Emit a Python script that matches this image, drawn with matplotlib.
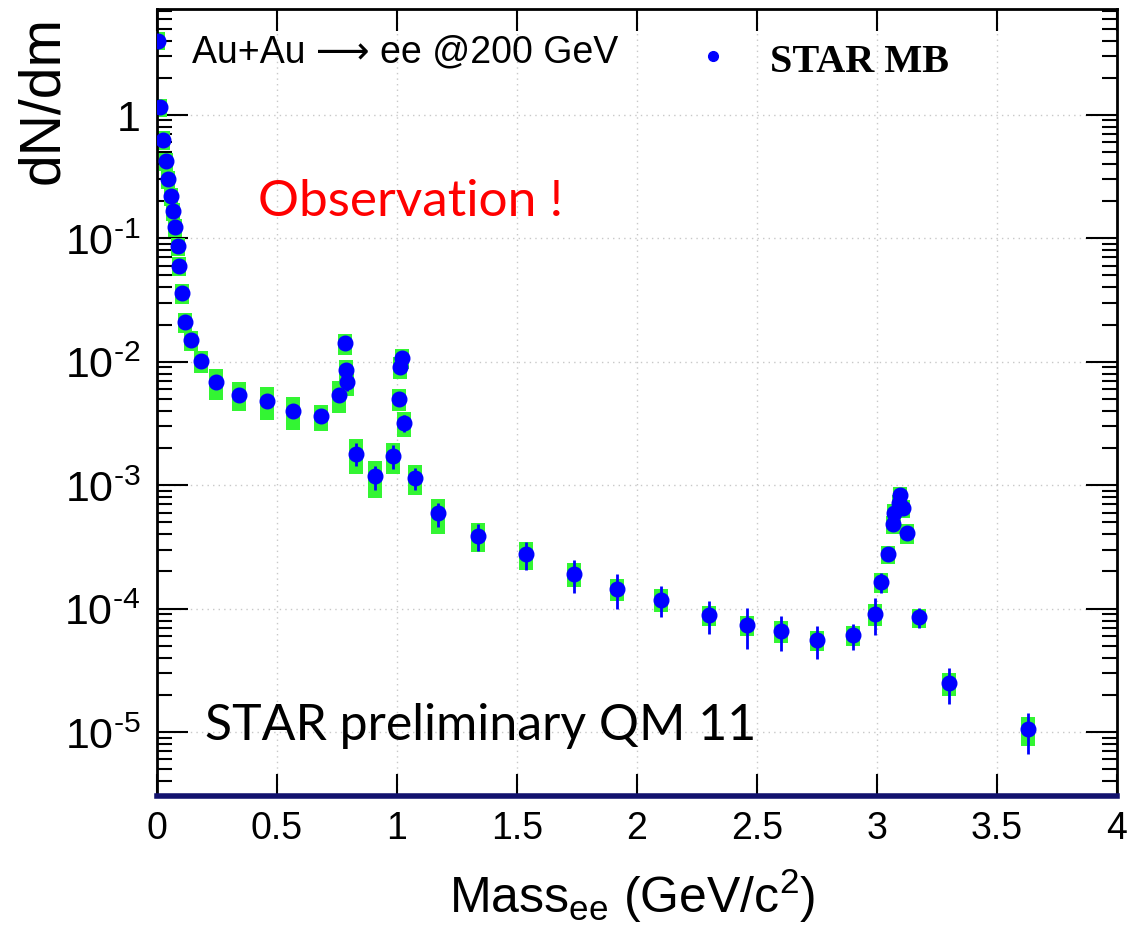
import matplotlib
matplotlib.use("Agg")
import matplotlib.pyplot as plt
import numpy as np

# dielectron mass spectrum
mass = [0.005, 0.013, 0.026, 0.037, 0.045, 0.057, 0.068, 0.074, 0.087, 0.093,
        0.105, 0.115, 0.14, 0.183, 0.246, 0.342, 0.458, 0.567, 0.683, 0.758,
        0.783, 0.788, 0.792, 0.829, 0.908, 0.983, 1.008, 1.013, 1.02, 1.03,
        1.075, 1.17, 1.337, 1.538, 1.738, 1.917, 2.10, 2.30, 2.46, 2.60,
        2.75, 2.90, 2.99, 3.017, 3.047, 3.065, 3.072, 3.09, 3.096, 3.11,
        3.125, 3.175, 3.30, 3.63]
dndm = [4.0, 1.15, 0.63, 0.42, 0.30, 0.22, 0.165, 0.123, 0.086, 0.060,
        0.036, 0.021, 0.015, 0.0102, 0.0068, 0.0054, 0.0048, 0.0040, 0.0036, 0.0054,
        0.0141, 0.0086, 0.0068, 0.0018, 0.00118, 0.00172, 0.0050, 0.0091, 0.0107, 0.0032,
        0.00114, 0.00059, 0.00039, 0.000275, 0.00019, 0.000145, 0.000118, 8.9e-5, 7.4e-5, 6.6e-5,
        5.6e-5, 6.1e-5, 9.1e-5, 1.63e-4, 2.75e-4, 4.8e-4, 6.0e-4, 7.1e-4, 8.3e-4, 6.5e-4,
        4.1e-4, 8.5e-5, 2.5e-5, 1.05e-5]
# relative systematic (green boxes) and statistical (blue bars) errors
sys_rel = [0.17, 0.17, 0.17, 0.17, 0.17, 0.17, 0.17, 0.17, 0.17, 0.17,
           0.18, 0.19, 0.185, 0.2, 0.28, 0.265, 0.30, 0.30, 0.24, 0.29,
           0.19, 0.19, 0.22, 0.31, 0.33, 0.28, 0.2, 0.2, 0.19, 0.23,
           0.27, 0.32, 0.27, 0.26, 0.22, 0.2, 0.21, 0.185, 0.185, 0.2,
           0.185, 0.185, 0.2, 0.185, 0.167, 0.167, 0.167, 0.167, 0.167, 0.167,
           0.18, 0.175, 0.21, 0.265]
stat_rel = [0.03, 0.03, 0.03, 0.03, 0.03, 0.03, 0.03, 0.03, 0.04, 0.04,
            0.05, 0.05, 0.05, 0.06, 0.08, 0.08, 0.1, 0.1, 0.12, 0.1,
            0.06, 0.06, 0.15, 0.21, 0.22, 0.22, 0.08, 0.06, 0.06, 0.16,
            0.2, 0.22, 0.25, 0.26, 0.30, 0.31, 0.28, 0.30, 0.36, 0.31,
            0.30, 0.24, 0.33, 0.18, 0.12, 0.1, 0.1, 0.1, 0.08, 0.1,
            0.1, 0.18, 0.33, 0.37]

xticks = [0, 0.5, 1, 1.5, 2, 2.5, 3, 3.5, 4]
xticklabels = ["0", "0.5", "1", "1.5", "2", "2.5", "3", "3.5", "4"]
yticks = [1e-5, 1e-4, 1e-3, 1e-2, 1e-1, 1]
yticklabels = ["$10^{\u2010 5}$", "$10^{\u2010 4}$", "$10^{\u2010 3}$",
               "$10^{\u2010 2}$", "$10^{\u2010 1}$", "1"]

plt.rcParams["font.family"] = ["Liberation Sans", "DejaVu Sans"]
plt.rcParams["mathtext.fontset"] = "custom"
plt.rcParams["mathtext.rm"] = "Liberation Sans"
plt.rcParams["mathtext.it"] = "Liberation Sans"

fig = plt.figure(figsize=(11.27, 9.29), dpi=100)
ax = fig.add_axes([157/1127, 1-797/929, 960/1127, 787/929])

m = np.array(mass)
y = np.array(dndm)
s = np.array(sys_rel)
lo = y*(1-s)
hi = y*(1+s)
ax.bar(m, hi-lo, bottom=lo, width=0.058, color="#33f533", zorder=2)
ax.errorbar(m, y, yerr=y*np.array(stat_rel), fmt="o", color="#0000ff",
            ms=10.5, elinewidth=2, capsize=0, zorder=3)

ax.set_yscale("log")
ax.set_xlim(0, 4)
ax.set_ylim(3.03e-6, 7.2)
ax.set_xticks(xticks)
ax.set_xticklabels(xticklabels, fontsize=27)
ax.set_yticks(yticks)
ax.set_yticklabels(yticklabels, fontsize=31)
ax.yaxis.set_minor_locator(matplotlib.ticker.LogLocator(base=10, subs=np.arange(2, 10)))
ax.yaxis.set_minor_formatter(matplotlib.ticker.NullFormatter())

ax.tick_params(axis="x", which="major", direction="in", length=16, width=1.5,
               top=True, pad=10)
ax.tick_params(axis="y", which="major", direction="in", length=22, width=1.5,
               right=True, pad=12)
ax.tick_params(axis="y", which="minor", direction="in", length=11, width=1.5,
               right=True)

ax.grid(True, which="major", color="#c8c8c8", linestyle=(0, (1, 3)), linewidth=1)
ax.set_axisbelow(True)

for side in ["left", "top", "right"]:
    ax.spines[side].set_linewidth(2)
    ax.spines[side].set_color("black")
ax.spines["bottom"].set_linewidth(4)
ax.spines["bottom"].set_color("#12126e")

# labels
fig.text(632/1127, 1-913/929, "Mass$_{\\rm ee}$ (GeV/c$^{2}$)", fontsize=36,
         ha="center", va="baseline")
fig.text(43/1127, 1-100/929, "dN/dm", fontsize=41, rotation=90,
         ha="center", va="center")

# annotations
ax.text(192/1127, 1-62/929, "Au+Au \u27f6 ee @200 GeV", transform=fig.transFigure,
        fontsize=27, va="baseline", ha="left")
ax.plot([0.579], [0.940], "o", color="#0000ff", ms=7, transform=ax.transAxes)
ax.text(770/1127, 1-72/929, "STAR MB", transform=fig.transFigure,
        fontsize=29, fontweight="bold", family="Liberation Serif",
        va="baseline", ha="left")
ax.text(258/1127, 1-216/929, "Observation !", transform=fig.transFigure,
        fontsize=37, color="#ff0000", family="Lato", va="baseline", ha="left")
ax.text(205/1127, 1-740/929, "STAR preliminary QM 11", transform=fig.transFigure,
        fontsize=36, color="black", family="Lato", va="baseline", ha="left")

fig.savefig("out.png", dpi=100)
